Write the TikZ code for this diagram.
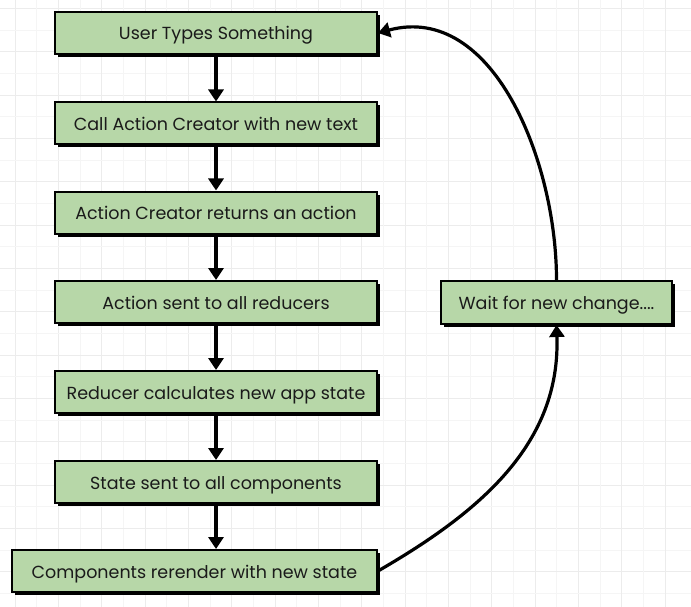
\documentclass[tikz,border=0pt]{standalone}
\usepackage{fontspec}
\setmainfont{Poppins}
\usetikzlibrary{arrows.meta,shadows}
\definecolor{boxgreen}{HTML}{B7D7A8}
\definecolor{gridminor}{HTML}{F5F5F5}
\definecolor{gridmajor}{HTML}{ECECEC}
\definecolor{txt}{HTML}{1A1A1A}
\begin{document}
\begin{tikzpicture}[x=1pt,y=-1pt,
  stepbox/.style={draw=black,line width=2pt,fill=boxgreen,minimum height=42pt,
    inner sep=0pt,text=txt,font=\fontsize{17.5}{19}\selectfont,
    text height=15pt,text depth=1pt,
    drop shadow={shadow xshift=3pt,shadow yshift=-3pt,fill=black,opacity=1}},
  flow/.style={line width=3.2pt,-{Triangle[length=12pt,width=15pt]}}]
\useasboundingbox (0,0) rectangle (691,607);
\fill[white] (0,0) rectangle (691,607);
% grid
\foreach \i in {0,...,31}{
  \pgfmathsetmacro{\xx}{-6.667+21.667*\i}
  \pgfmathsetmacro{\yy}{-13.33+21.667*\i}
  \ifodd\i
    \draw[gridmajor,line width=1pt] (\xx,0) -- (\xx,607);
    \draw[gridmajor,line width=1pt] (0,\yy) -- (691,\yy);
  \else
    \draw[gridminor,line width=1pt] (\xx,0) -- (\xx,607);
    \draw[gridminor,line width=1pt] (0,\yy) -- (691,\yy);
  \fi
}
% nodes
\node[stepbox,minimum width=322pt] (b1) at (216,33) {User Types Something};
\node[stepbox,minimum width=322pt] (b2) at (216,123.5) {Call Action Creator with new text};
\node[stepbox,minimum width=322pt] (b3) at (216,212.5) {Action Creator returns an action};
\node[stepbox,minimum width=322pt] (b4) at (216,302) {Action sent to all reducers};
\node[stepbox,minimum width=322pt] (b5) at (216,392) {Reducer calculates new app state};
\node[stepbox,minimum width=322pt] (b6) at (216,482) {State sent to all components};
\node[stepbox,minimum width=365pt] (b7) at (194.5,571) {Components rerender with new state};
\node[stepbox,minimum width=231pt,minimum height=43pt] (w) at (556.5,302.5) {Wait for new change....};
% connectors
\draw[flow] (b1) -- (b2);
\draw[flow] (b2) -- (b3);
\draw[flow] (b3) -- (b4);
\draw[flow] (b4) -- (b5);
\draw[flow] (b5) -- (b6);
\draw[flow] (b6.south) -- (b6.south |- b7.north);
\draw[flow] (b7.east) to[out=30,in=-88] (w.south);
\draw[flow] (w.north) to[out=90,in=15] (b1.east);
\end{tikzpicture}
\end{document}
